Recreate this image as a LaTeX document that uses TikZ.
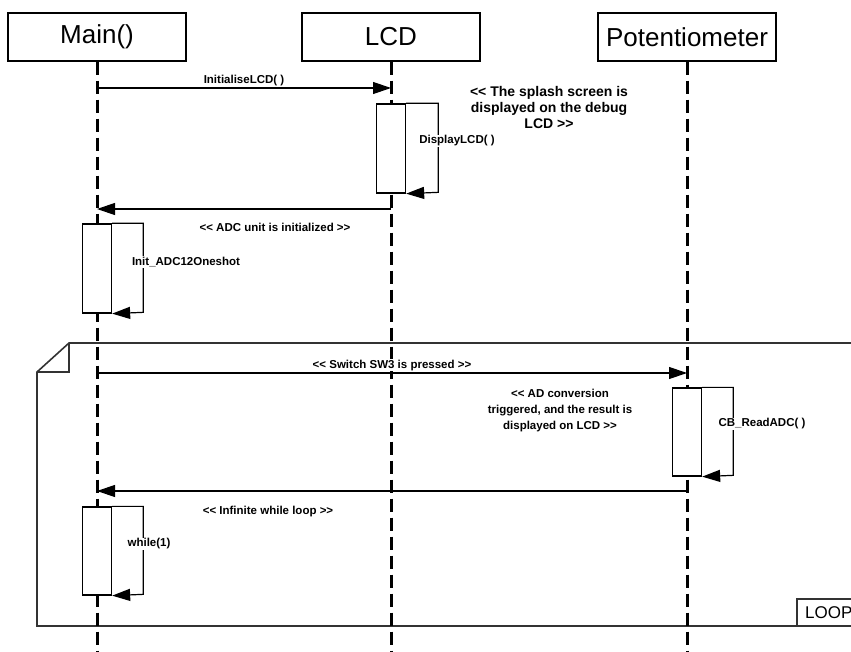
\documentclass[tikz,border=0pt]{standalone}
\usepackage{fontspec}
\setmainfont{Liberation Sans}[Ligatures=TeXOff]
\usepackage{tikz}
\usetikzlibrary{arrows.meta}
\usepackage{xcolor}

\begin{document}
\begin{tikzpicture}[x=1pt,y=-1pt,
    head/.style={draw,line width=1.3pt,minimum width=178pt,minimum height=48pt,inner sep=0pt,font=\fontsize{26}{30}\selectfont},
    life/.style={line width=3pt,dash pattern=on 13pt off 6pt},
    msg/.style={line width=1.2pt,-{Triangle[length=18pt,width=12pt]}},
    act/.style={draw,fill=white,line width=1.3pt,minimum width=29pt,inner sep=0pt},
    lbl/.style={font=\bfseries\fontsize{11.5}{16}\selectfont,inner sep=1pt,align=center},
    note/.style={font=\bfseries\fontsize{14}{16}\selectfont,inner sep=0pt,align=center},
    frame/.style={line width=1.6pt,draw=black!80}]
  \useasboundingbox (0,0) rectangle (851,652);
  \clip (0,0) rectangle (851,652);

  % the loop frame
  \draw [frame] (69,343) -- (870,343) -- (870,626) -- (37,626) -- (37,372) -- cycle;
  \draw [frame] (69,343) -- (69,372) -- (37,372);
  \node [draw=black!80,line width=1.4pt,minimum width=70pt,minimum height=27pt,inner sep=0pt] (loopbox) at (832,612.5) {};
  \node [anchor=west,inner sep=0pt,font=\fontsize{17}{20}\selectfont] (looptxt) at (805,613) {LOOP};

  % objects and lifelines
  \node [head] (main) at (97,37) {Main()};
  \node [head] (lcd) at (391,37) {LCD};
  \node [head] (pot) at (687,37) {Potentiometer};
  \coordinate (mainend) at (97,652);
  \coordinate (lcdend) at (391,652);
  \coordinate (potend) at (687,652);
  \draw [life] (main) -- (mainend);
  \draw [life] (lcd) -- (lcdend);
  \draw [life] (pot) -- (potend);

  % InitialiseLCD
  \coordinate (m1a) at (97,88);
  \coordinate (m1b) at (391,88);
  \draw [msg] (m1a) -- node [lbl,above=1pt] (m1lbl) {InitialiseLCD( )} (m1b);
  \node [note] (splash) at (549,107) {<< The splash screen is\\displayed on the debug\\LCD >>};

  \node [act,minimum height=89pt] (actlcd) at (391,148.5) {};
  \draw [msg] (actlcd.north east) -- ++(32,0) -- ++(0,89) -- (actlcd.south east);
  \node [lbl,fill=white] (dlcd) at (457,141) {DisplayLCD( )};

  % back to main
  \coordinate (r1a) at (391,209);
  \coordinate (r1b) at (97,209);
  \draw [msg] (r1a) -- (r1b);
  \node [lbl] (r1lbl) at (275,227) {<< ADC unit is initialized >>};

  \node [act,minimum height=89pt] (actmain) at (97,268.5) {};
  \draw [msg] (actmain.north east) -- ++(31,0) -- ++(0,89) -- (actmain.south east);
  \node [lbl,fill=white] (init) at (186,262) {Init\_ADC12Oneshot};

  % switch pressed
  \coordinate (m2a) at (97,373);
  \coordinate (m2b) at (687,373);
  \draw [msg] (m2a) -- node [lbl,fill=white,above=1pt] (m2lbl) {<< Switch SW3 is pressed >>} (m2b);
  \node [lbl] (adnote) at (560,411) {<< AD conversion\\triggered, and the result is\\displayed on LCD >>};

  \node [act,minimum height=88pt] (actpot) at (687,432) {};
  \draw [msg] (actpot.north east) -- ++(31,0) -- ++(0,88) -- (actpot.south east);
  \node [lbl,fill=white] (read) at (762,424) {CB\_ReadADC( )};

  % back to main again
  \coordinate (r2a) at (687,491);
  \coordinate (r2b) at (97,491);
  \draw [msg] (r2a) -- (r2b);
  \node [lbl] (r2lbl) at (268,512) {<< Infinite while loop >>};

  \node [act,minimum height=88pt] (actmain2) at (97,551) {};
  \draw [msg] (actmain2.north east) -- ++(31,0) -- ++(0,88) -- (actmain2.south east);
  \node [lbl,fill=white] (wloop) at (149,544) {while(1)};
\end{tikzpicture}
\end{document}
